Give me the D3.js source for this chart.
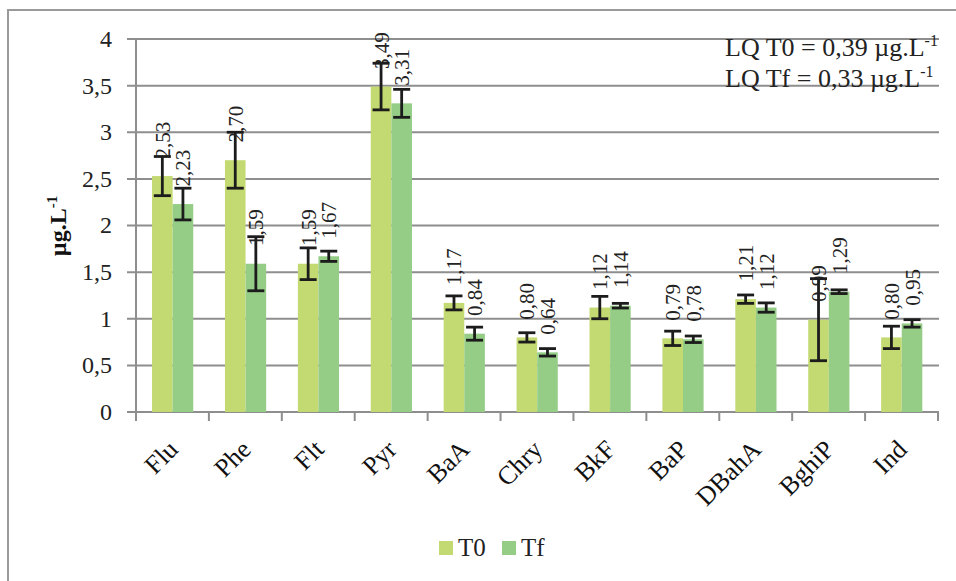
<!DOCTYPE html>
<html>
<head>
<meta charset="utf-8">
<script src="https://cdn.jsdelivr.net/npm/d3@7"></script>
<style>
  body { margin: 0; background: #fff; }
  text { font-family: "Liberation Serif", "Times New Roman", serif; }
</style>
</head>
<body>
<div id="chart"></div>
<script>
const categories = ["Flu", "Phe", "Flt", "Pyr", "BaA", "Chry", "BkF", "BaP", "DBahA", "BghiP", "Ind"];
const seriesNames = ["T0", "Tf"];
const valuesT0 = [2.53, 2.70, 1.59, 3.49, 1.17, 0.80, 1.12, 0.79, 1.21, 0.99, 0.80];
const valuesTf = [2.23, 1.59, 1.67, 3.31, 0.84, 0.64, 1.14, 0.78, 1.12, 1.29, 0.95];
const errT0 = [0.21, 0.30, 0.17, 0.25, 0.075, 0.05, 0.12, 0.077, 0.045, 0.44, 0.12];
const errTf = [0.17, 0.29, 0.055, 0.15, 0.07, 0.04, 0.025, 0.035, 0.05, 0.02, 0.04];
const yTicks = [0, 0.5, 1, 1.5, 2, 2.5, 3, 3.5, 4];
const lqLines = ["LQ T0 = 0,39 µg.L", "LQ Tf = 0,33 µg.L"];

const colors = { T0: "#c3d971", Tf: "#95cd87" };

const rows = [];
categories.forEach((c, i) => {
  rows.push({ cat: c, s: "T0", v: valuesT0[i], e: errT0[i] });
  rows.push({ cat: c, s: "Tf", v: valuesTf[i], e: errTf[i] });
});

const width = 956;
const height = 581;
const margin = { top: 39, right: 18, bottom: 169, left: 136 };
const gray = "#8e8e8e";

const fr = d3.formatLocale({ decimal: ",", thousands: ".", grouping: [3], currency: ["", ""] });
const tickFmt = fr.format("~g");
const labelFmt = fr.format(".2f");

const x = d3.scaleBand()
  .domain(categories)
  .range([margin.left, width - margin.right]);

const x1 = d3.scaleBand()
  .domain(seriesNames)
  .range([x.bandwidth() * 0.22, x.bandwidth() * 0.785]);

const y = d3.scaleLinear()
  .domain([0, 4])
  .range([height - margin.bottom, margin.top]);

const svg = d3.select("#chart")
  .append("svg")
  .attr("width", width)
  .attr("height", height);

// outer frame (only top + left show)
svg.append("path")
  .attr("d", `M8,${height}V10H${width}`)
  .attr("fill", "none")
  .attr("stroke", "#9a9a9a")
  .attr("stroke-width", 2);

// gridlines + y ticks
yTicks.forEach(t => {
  svg.append("line")
    .attr("x1", margin.left - 9)
    .attr("x2", x.range()[1] + 1)
    .attr("y1", y(t))
    .attr("y2", y(t))
    .attr("stroke", gray)
    .attr("stroke-width", 2);

  svg.append("text")
    .attr("x", 112)
    .attr("y", y(t))
    .attr("dy", "0.33em")
    .attr("text-anchor", "end")
    .attr("font-size", "24px")
    .attr("fill", "#222")
    .text(tickFmt(t));
});

// y axis line
svg.append("line")
  .attr("x1", margin.left)
  .attr("x2", margin.left)
  .attr("y1", y(4))
  .attr("y2", y(0) + 9)
  .attr("stroke", gray)
  .attr("stroke-width", 2);

// x ticks at band edges
categories.forEach(c => {
  const xe = x(c) + x.bandwidth();
  svg.append("line")
    .attr("x1", xe)
    .attr("x2", xe)
    .attr("y1", y(0))
    .attr("y2", y(0) + 9)
    .attr("stroke", gray)
    .attr("stroke-width", 2);
});

// bars
svg.append("g")
  .selectAll("rect")
  .data(rows)
  .join("rect")
  .attr("x", d => x(d.cat) + x1(d.s))
  .attr("y", d => y(d.v))
  .attr("width", x1.bandwidth())
  .attr("height", d => y(0) - y(d.v))
  .attr("fill", d => colors[d.s]);

// error bars
const eb = svg.append("g")
  .attr("stroke", "#1c1c1c")
  .attr("stroke-width", 2.8);

rows.forEach(d => {
  const cx = x(d.cat) + x1(d.s) + x1.bandwidth() / 2;
  const yt = y(d.v + d.e);
  const yb = y(d.v - d.e);
  eb.append("line").attr("x1", cx).attr("x2", cx).attr("y1", yt).attr("y2", yb);
  eb.append("line").attr("x1", cx - 8.5).attr("x2", cx + 8.5).attr("y1", yt).attr("y2", yt);
  eb.append("line").attr("x1", cx - 8.5).attr("x2", cx + 8.5).attr("y1", yb).attr("y2", yb);
});

// value labels, rotated
rows.forEach(d => {
  const cx = x(d.cat) + x1(d.s) + x1.bandwidth() / 2;
  const cy = y(d.v) - 36;
  svg.append("text")
    .attr("transform", `translate(${cx + 7.5},${cy}) rotate(-90)`)
    .attr("text-anchor", "middle")
    .attr("font-size", "21px")
    .attr("fill", "#222")
    .text(labelFmt(d.v));
});

// category labels
categories.forEach(c => {
  svg.append("text")
    .attr("transform", `translate(${x(c) + x.bandwidth() / 2 + 7},${y(0) + 39}) rotate(-45)`)
    .attr("text-anchor", "end")
    .attr("font-size", "26px")
    .attr("fill", "#111")
    .text(c);
});

// y title
svg.append("text")
  .attr("transform", `translate(66,226) rotate(-90)`)
  .attr("text-anchor", "middle")
  .attr("font-size", "24px")
  .attr("font-weight", "bold")
  .attr("fill", "#111")
  .html('µg.L<tspan dy="-9" font-size="15px">-1</tspan>');

// LQ note
lqLines.forEach((l, i) => {
  const t = svg.append("text")
    .attr("x", 725)
    .attr("y", 56 + i * 31)
    .attr("font-size", "26px")
    .attr("fill", "#222")
    .text(l);
  t.append("tspan")
    .attr("dy", -10)
    .attr("font-size", "16px")
    .text("-1");
});

// legend
const legend = svg.append("g")
  .attr("transform", "translate(439,541)");

seriesNames.forEach((s, i) => {
  const g = legend.append("g")
    .attr("transform", `translate(${i * 63},0)`);
  g.append("rect")
    .attr("width", 14)
    .attr("height", 14)
    .attr("fill", colors[s]);
  g.append("text")
    .attr("x", 19)
    .attr("y", 15)
    .attr("font-size", "25px")
    .attr("fill", "#222")
    .text(s);
});
</script>
</body>
</html>
